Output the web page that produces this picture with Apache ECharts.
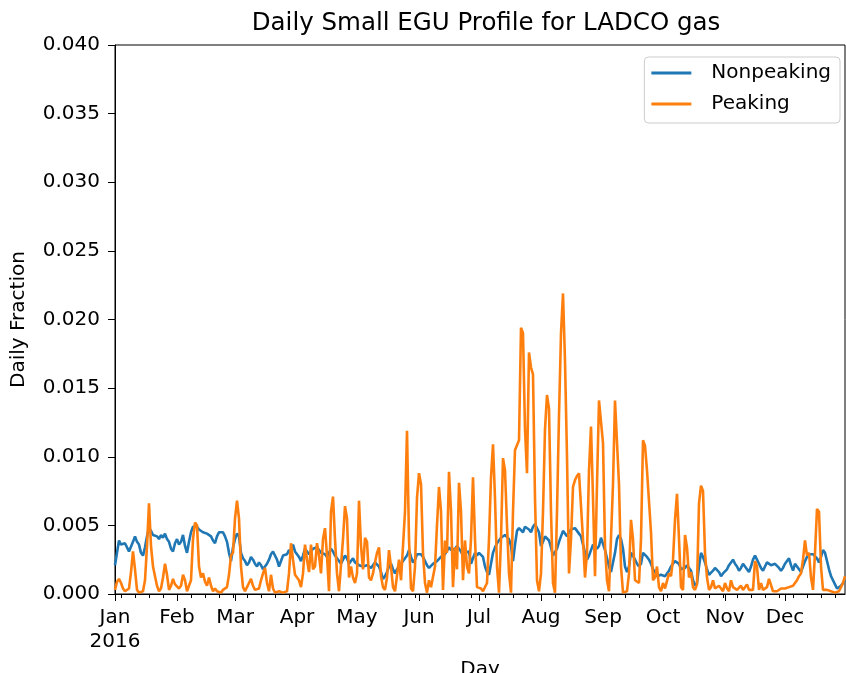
<!DOCTYPE html>
<html>
<head>
<meta charset="utf-8">
<title>Daily Small EGU Profile for LADCO gas</title>
<script src="https://cdn.jsdelivr.net/npm/echarts@6/dist/echarts.min.js"></script>
<style>
  html, body { margin: 0; padding: 0; background: #fff; }
  #main { width: 846px; height: 673px; }
</style>
</head>
<body>
<div id="main"></div>
<script>
// x axis: one label per month start, 2016 is a leap year
var monthNames = ['Jan', 'Feb', 'Mar', 'Apr', 'May', 'Jun', 'Jul', 'Aug', 'Sep', 'Oct', 'Nov', 'Dec'];
var monthDays = [31, 29, 31, 30, 31, 30, 31, 31, 30, 31, 30, 31];
var yTicks = [0, 0.005, 0.01, 0.015, 0.02, 0.025, 0.03, 0.035, 0.04];

// Nonpeaking daily fraction, month by month
var nonpeakJan = [0.0021,0.0030,0.0039,0.0036,0.0035,0.0037,0.0034,0.0031,0.0030,0.0038,0.0042,0.0038,0.0036,0.0030,0.0028,0.0034,0.0042,0.0048,0.0046,0.0043,0.0044,0.0042,0.0040,0.0043,0.0041,0.0044,0.0040,0.0038,0.0033,0.0031,0.0037];
var nonpeakFeb = [0.0040,0.0036,0.0038,0.0043,0.0035,0.0030,0.0038,0.0045,0.0049,0.0050,0.0049,0.0047,0.0046,0.0045,0.0046,0.0044,0.0043,0.0042,0.0039,0.0037,0.0042,0.0045,0.0044,0.0045,0.0042,0.0038,0.0030,0.0024,0.0034];
var nonpeakMar = [0.0040,0.0044,0.0042,0.0030,0.0026,0.0024,0.0021,0.0023,0.0027,0.0025,0.0022,0.0020,0.0023,0.0021,0.0018,0.0017,0.0022,0.0025,0.0029,0.0031,0.0030,0.0025,0.0020,0.0024,0.0028,0.0027,0.0029,0.0032,0.0030,0.0036,0.0031];
var nonpeakApr = [0.0030,0.0027,0.0024,0.0028,0.0033,0.0031,0.0029,0.0031,0.0033,0.0032,0.0034,0.0033,0.0030,0.0031,0.0029,0.0027,0.0030,0.0033,0.0031,0.0028,0.0026,0.0024,0.0022,0.0025,0.0028,0.0026,0.0022,0.0024,0.0026,0.0023];
var nonpeakMay = [0.0022,0.0021,0.0022,0.0020,0.0019,0.0021,0.0022,0.0019,0.0020,0.0023,0.0022,0.0020,0.0016,0.0011,0.0013,0.0016,0.0020,0.0022,0.0018,0.0015,0.0018,0.0020,0.0022,0.0024,0.0026,0.0028,0.0032,0.0027,0.0023,0.0025,0.0029];
var nonpeakJun = [0.0030,0.0029,0.0027,0.0024,0.0021,0.0019,0.0020,0.0022,0.0021,0.0024,0.0025,0.0027,0.0026,0.0029,0.0030,0.0034,0.0032,0.0031,0.0033,0.0035,0.0034,0.0031,0.0028,0.0030,0.0029,0.0031,0.0022,0.0026,0.0030,0.0028];
var nonpeakJul = [0.0030,0.0029,0.0027,0.0020,0.0016,0.0014,0.0022,0.0030,0.0034,0.0037,0.0039,0.0041,0.0042,0.0043,0.0044,0.0040,0.0035,0.0024,0.0036,0.0046,0.0048,0.0047,0.0045,0.0049,0.0050,0.0047,0.0045,0.0049,0.0051,0.0050,0.0045];
var nonpeakAug = [0.0035,0.0038,0.0042,0.0041,0.0039,0.0034,0.0028,0.0027,0.0033,0.0038,0.0042,0.0046,0.0047,0.0042,0.0045,0.0047,0.0048,0.0048,0.0046,0.0044,0.0042,0.0036,0.0030,0.0025,0.0028,0.0032,0.0036,0.0037,0.0033,0.0035,0.0041];
var nonpeakSep = [0.0040,0.0032,0.0026,0.0020,0.0016,0.0015,0.0030,0.0040,0.0043,0.0040,0.0033,0.0020,0.0016,0.0020,0.0030,0.0028,0.0025,0.0022,0.0020,0.0022,0.0030,0.0029,0.0027,0.0025,0.0022,0.0018,0.0016,0.0013,0.0014,0.0014];
var nonpeakOct = [0.0014,0.0013,0.0012,0.0017,0.0020,0.0021,0.0024,0.0025,0.0022,0.0018,0.0017,0.0019,0.0021,0.0020,0.0017,0.0010,0.0006,0.0008,0.0020,0.0030,0.0027,0.0023,0.0018,0.0014,0.0013,0.0017,0.0019,0.0018,0.0016,0.0013,0.0015];
var nonpeakNov = [0.0016,0.0018,0.0021,0.0022,0.0025,0.0022,0.0020,0.0017,0.0019,0.0022,0.0021,0.0018,0.0016,0.0020,0.0025,0.0028,0.0025,0.0022,0.0019,0.0017,0.0020,0.0023,0.0024,0.0021,0.0020,0.0022,0.0021,0.0019,0.0017,0.0019];
var nonpeakDec = [0.0022,0.0024,0.0026,0.0021,0.0017,0.0022,0.0020,0.0018,0.0016,0.0020,0.0024,0.0027,0.0029,0.0030,0.0029,0.0028,0.0026,0.0023,0.0027,0.0032,0.0030,0.0024,0.0018,0.0013,0.0010,0.0007,0.0004,0.0005,0.0006,0.0008,0.0010];

// Peaking daily fraction, month by month
var peakJan = [0.0003,0.0009,0.0011,0.0008,0.0004,0.0002,0.0001,0.0004,0.0016,0.0031,0.0018,0.0003,0.0001,0.0001,0.0002,0.0010,0.0035,0.0066,0.0035,0.0020,0.0013,0.0006,0.0002,0.0004,0.0012,0.0022,0.0014,0.0003,0.0006,0.0011,0.0007];
var peakFeb = [0.0008,0.0004,0.0006,0.0014,0.0010,0.0002,0.0006,0.0010,0.0040,0.0052,0.0050,0.0020,0.0012,0.0015,0.0009,0.0006,0.0012,0.0006,0.0002,0.0004,0.0002,0.0001,0.0001,0.0003,0.0002,0.0005,0.0014,0.0028,0.0030];
var peakMar = [0.0055,0.0068,0.0055,0.0020,0.0005,0.0002,0.0005,0.0008,0.0011,0.0006,0.0003,0.0002,0.0004,0.0010,0.0015,0.0019,0.0008,0.0002,0.0014,0.0004,0.0001,0.0001,0.0002,0.0001,0.0001,0.0001,0.0002,0.0015,0.0037,0.0025,0.0014];
var peakApr = [0.0012,0.0010,0.0005,0.0015,0.0036,0.0025,0.0016,0.0036,0.0018,0.0020,0.0037,0.0028,0.0015,0.0040,0.0048,0.0028,0.0002,0.0060,0.0071,0.0040,0.0015,0.0002,0.0001,0.0040,0.0064,0.0055,0.0012,0.0020,0.0012,0.0008];
var peakMay = [0.0015,0.0068,0.0035,0.0018,0.0041,0.0038,0.0012,0.0010,0.0015,0.0023,0.0030,0.0034,0.0013,0.0005,0.0003,0.0012,0.0032,0.0020,0.0005,0.0002,0.0003,0.0025,0.0010,0.0035,0.0060,0.0119,0.0040,0.0004,0.0002,0.0020,0.0070];
var peakJun = [0.0088,0.0080,0.0030,0.0008,0.0001,0.0010,0.0005,0.0004,0.0020,0.0050,0.0078,0.0060,0.0003,0.0039,0.0030,0.0089,0.0060,0.0005,0.0034,0.0018,0.0081,0.0060,0.0010,0.0039,0.0020,0.0015,0.0040,0.0085,0.0040,0.0005];
var peakJul = [0.0006,0.0004,0.0002,0.0001,0.0008,0.0040,0.0085,0.0109,0.0070,0.0020,0.0001,0.0040,0.0099,0.0090,0.0050,0.0015,0.0001,0.0060,0.0105,0.0106,0.0112,0.0194,0.0190,0.0120,0.0088,0.0176,0.0165,0.0160,0.0070,0.0010,0.0002];
var peakAug = [0.0015,0.0060,0.0120,0.0145,0.0135,0.0060,0.0008,0.0001,0.0060,0.0130,0.0190,0.0219,0.0170,0.0100,0.0015,0.0040,0.0078,0.0083,0.0086,0.0088,0.0089,0.0040,0.0012,0.0030,0.0090,0.0122,0.0070,0.0013,0.0080,0.0141,0.0142];
var peakSep = [0.0110,0.0035,0.0010,0.0002,0.0001,0.0080,0.0141,0.0142,0.0080,0.0020,0.0001,0.0001,0.0002,0.0015,0.0054,0.0040,0.0010,0.0010,0.0008,0.0040,0.0112,0.0108,0.0090,0.0090,0.0045,0.0010,0.0012,0.0020,0.0005,0.0002];
var peakOct = [0.0008,0.0004,0.0005,0.0015,0.0013,0.0025,0.0054,0.0073,0.0040,0.0005,0.0003,0.0043,0.0034,0.0012,0.0016,0.0005,0.0003,0.0007,0.0066,0.0079,0.0075,0.0030,0.0012,0.0003,0.0005,0.0010,0.0004,0.0004,0.0006,0.0004,0.0002];
var peakNov = [0.0008,0.0004,0.0002,0.0010,0.0005,0.0004,0.0003,0.0002,0.0006,0.0003,0.0002,0.0007,0.0003,0.0002,0.0003,0.0024,0.0020,0.0003,0.0008,0.0003,0.0002,0.0005,0.0011,0.0011,0.0002,0.0001,0.0002,0.0003,0.0004,0.0005];
var peakDec = [0.0004,0.0005,0.0005,0.0004,0.0006,0.0008,0.0010,0.0013,0.0015,0.0025,0.0039,0.0028,0.0030,0.0012,0.0003,0.0030,0.0062,0.0060,0.0020,0.0003,0.0004,0.0003,0.0002,0.0002,0.0001,0.0001,0.0002,0.0002,0.0005,0.0008,0.0013];

var nonpeaking = [].concat(nonpeakJan, nonpeakFeb, nonpeakMar, nonpeakApr, nonpeakMay, nonpeakJun,
                           nonpeakJul, nonpeakAug, nonpeakSep, nonpeakOct, nonpeakNov, nonpeakDec);
var peaking = [].concat(peakJan, peakFeb, peakMar, peakApr, peakMay, peakJun,
                        peakJul, peakAug, peakSep, peakOct, peakNov, peakDec);

// day categories + where each month starts
var days = [];
var monthStart = {};
for (var m = 0; m < 12; m++) {
    monthStart[days.length] = monthNames[m];
    for (var d = 1; d <= monthDays[m]; d++) {
        days.push('2016-' + (m + 1) + '-' + d);
    }
}
// 2016-01-04 was a Monday, weekly minor ticks from there
function isMonday(i) { return (i - 3) % 7 === 0; }

var font = 'DejaVu Sans';
var fs = 20;
var myChart = echarts.init(document.getElementById('main'));
var option = {
    animation: false,
    textStyle: { fontFamily: font },
    title: {
        text: 'Daily Small EGU Profile for LADCO gas',
        left: 481, top: 6, textAlign: 'center',
        textStyle: { fontFamily: font, fontSize: 24.5, fontWeight: 'normal', color: '#000' }
    },
    legend: {
        orient: 'vertical', right: 6, top: 57,
        data: ['Nonpeaking', 'Peaking'],
        icon: 'rect', itemWidth: 40, itemHeight: 3, itemGap: 9,
        padding: [5, 9, 8, 7],
        borderColor: '#cccccc', borderWidth: 1, borderRadius: 4,
        backgroundColor: 'rgba(255,255,255,0.8)',
        textStyle: { fontFamily: font, fontSize: fs, lineHeight: 22, color: '#000', padding: [0, 0, 0, 15] }
    },
    grid: {
        left: 115, right: 1, top: 45, bottom: 79,
        outerBoundsMode: 'none',
        show: true, borderColor: '#000', borderWidth: 1
    },
    xAxis: [{
        type: 'category', data: days, boundaryGap: false,
        name: 'Day', nameLocation: 'middle', nameGap: 66,
        nameTextStyle: { fontFamily: font, fontSize: fs, color: '#000' },
        axisLine: { lineStyle: { color: '#000', width: 1 } },
        axisTick: { length: 7, lineStyle: { color: '#000' }, interval: function (i) { return monthStart[i] !== undefined; } },
        axisLabel: {
            interval: function (i) { return monthStart[i] !== undefined; },
            formatter: function (v, i) { return i === 0 ? 'Jan\n2016' : monthStart[i]; },
            fontFamily: font, fontSize: fs, lineHeight: 24, color: '#000', margin: 12
        },
        splitLine: { show: false }
    }, {
        // weekly minor ticks
        type: 'category', data: days, boundaryGap: false, position: 'bottom',
        axisLine: { show: false },
        axisTick: { length: 4, lineStyle: { color: '#000' }, interval: function (i) { return isMonday(i); } },
        axisLabel: { show: false },
        splitLine: { show: false }
    }],
    yAxis: {
        type: 'value', min: yTicks[0], max: yTicks[yTicks.length - 1], interval: 0.005,
        name: 'Daily Fraction', nameLocation: 'middle', nameGap: 86,
        nameTextStyle: { fontFamily: font, fontSize: fs, color: '#000' },
        axisLine: { show: true, lineStyle: { color: '#000', width: 1 } },
        axisTick: { show: true, length: 7, lineStyle: { color: '#000' } },
        axisLabel: { fontFamily: font, fontSize: fs, color: '#000', margin: 15,
                     formatter: function (v) { return v.toFixed(3); } },
        splitLine: { show: false }
    },
    series: [{
        name: 'Nonpeaking', type: 'line', data: nonpeaking, xAxisIndex: 0,
        symbol: 'none', color: '#1f77b4',
        lineStyle: { width: 2.6, color: '#1f77b4' }
    }, {
        name: 'Peaking', type: 'line', data: peaking, xAxisIndex: 0,
        symbol: 'none', color: '#ff7f0e',
        lineStyle: { width: 2.6, color: '#ff7f0e' }
    }]
};
myChart.setOption(option);
</script>
</body>
</html>
